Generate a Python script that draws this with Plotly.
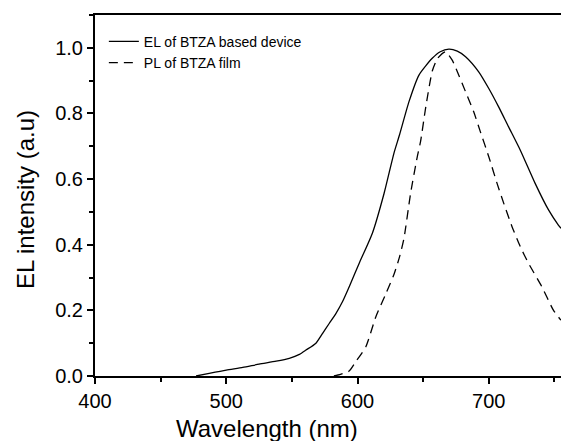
import plotly.graph_objects as go

el_wl = [477, 487, 500, 512.6, 525, 538, 548, 555.7, 560.7, 568.3, 573.4, 578.4, 583.5, 588.5, 594, 601.2, 611.3, 620.2, 627.8, 632, 639.2, 646.8, 656.9, 663, 669.6, 676, 682.3, 692.3, 700, 707.5, 715.1, 724, 735.3, 745.5, 753, 755]
el_int = [0.0, 0.008, 0.018, 0.026, 0.036, 0.045, 0.054, 0.066, 0.079, 0.1, 0.13, 0.16, 0.19, 0.226, 0.275, 0.343, 0.435, 0.556, 0.68, 0.735, 0.836, 0.917, 0.968, 0.988, 0.996, 0.99, 0.973, 0.927, 0.876, 0.82, 0.759, 0.688, 0.587, 0.506, 0.46, 0.45]

pl_wl = [582, 587, 593.6, 598.7, 606.3, 613.9, 621.5, 627.8, 632, 635.4, 640.4, 645.5, 648, 652, 657, 661, 667, 672, 675, 682.3, 688.5, 693.6, 700, 706.3, 711.4, 717.7, 724, 730.3, 740.4, 749.3, 755]
pl_int = [0.0, 0.005, 0.015, 0.044, 0.089, 0.18, 0.25, 0.31, 0.363, 0.42, 0.556, 0.668, 0.714, 0.82, 0.93, 0.968, 0.988, 0.963, 0.937, 0.866, 0.805, 0.744, 0.668, 0.587, 0.526, 0.455, 0.394, 0.343, 0.272, 0.2, 0.17]

x_ticks = [400, 500, 600, 700]
y_ticks = [0.0, 0.2, 0.4, 0.6, 0.8, 1.0]
x_title = "Wavelength (nm)"
y_title = "EL intensity (a.u)"

fig = go.Figure()
fig.add_trace(go.Scatter(x=el_wl, y=el_int, mode="lines", name="EL of BTZA based device",
                         line=dict(color="black", width=1.3, shape="spline", smoothing=0.6)))
fig.add_trace(go.Scatter(x=pl_wl, y=pl_int, mode="lines", name="PL of BTZA film",
                         line=dict(color="black", width=1.3, dash="9px,6px", shape="spline", smoothing=0.6)))

font = "Liberation Sans, Arial, sans-serif"
fig.update_layout(
    width=561, height=441,
    margin=dict(l=95, r=0, t=15, b=65, autoexpand=False),
    plot_bgcolor="white", paper_bgcolor="white",
    font=dict(family=font, color="black"),
    showlegend=True,
    legend=dict(x=0.019, y=0.97, xanchor="left", yanchor="top", bgcolor="rgba(0,0,0,0)",
                font=dict(size=14, family=font), itemwidth=30, tracegroupgap=0),
    xaxis=dict(range=[400, 755], tickvals=x_ticks, ticktext=[str(v) for v in x_ticks],
               showgrid=False, zeroline=False, showline=True, linecolor="black", linewidth=2,
               mirror=True, ticks="outside", ticklen=6, tickwidth=1.5, tickcolor="black",
               tickfont=dict(size=20), automargin=False,
               minor=dict(dtick=50, tick0=400, ticks="outside", ticklen=4, tickwidth=1.5, tickcolor="black")),
    yaxis=dict(range=[0, 1.1], tickvals=y_ticks, ticktext=[f"{v:.1f}" for v in y_ticks],
               showgrid=False, zeroline=False, showline=True, linecolor="black", linewidth=2,
               ticks="outside", ticklen=6, tickwidth=1.5, tickcolor="black",
               tickfont=dict(size=20), automargin=False,
               minor=dict(dtick=0.1, tick0=0, ticks="outside", ticklen=4, tickwidth=1.5, tickcolor="black")),
    annotations=[
        dict(text=x_title, xref="paper", yref="paper", x=0.369, y=-0.145, xanchor="center", yanchor="middle",
             showarrow=False, font=dict(size=24, family=font)),
        dict(text=y_title, xref="paper", yref="paper", x=-0.15, y=0.4875, xanchor="center", yanchor="middle",
             textangle=-90, showarrow=False, font=dict(size=24, family=font)),
    ],
)
fig.write_html("out.html", config={"displayModeBar": False},
               post_script="document.body.style.margin='0';document.body.style.padding='0';")
